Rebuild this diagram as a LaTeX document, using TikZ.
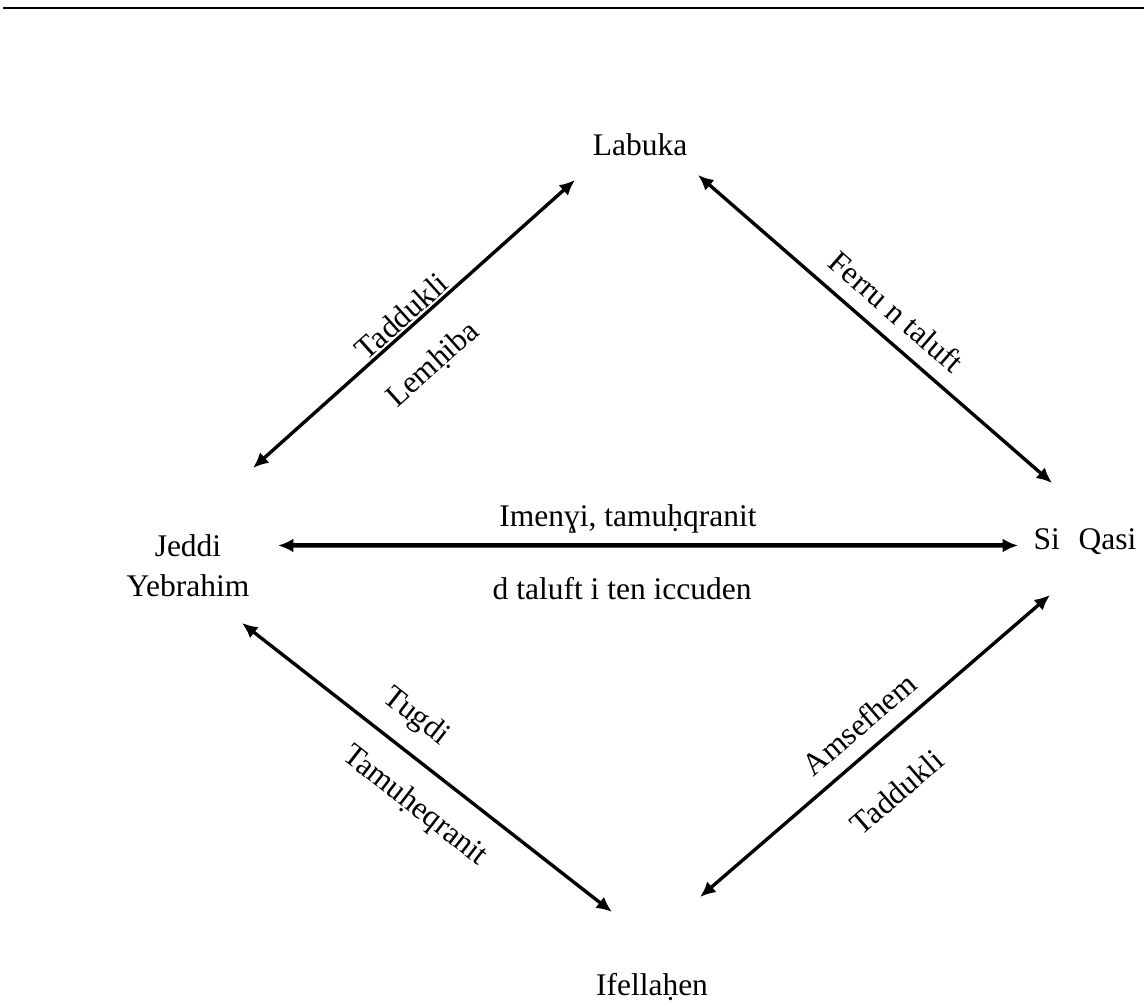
\documentclass[tikz,border=0pt]{standalone}
\usepackage{fontspec}
\setmainfont{Liberation Serif}
\usetikzlibrary{arrows.meta}
\begin{document}
\begin{tikzpicture}[>={Latex[length=5.5pt,width=5pt]},
    place/.style={inner sep=0pt,font=\fontsize{11.2}{14.2}\selectfont},
    link/.style={<->,line width=1.2pt},
    word/.style={sloped,inner sep=0pt,font=\fontsize{11.2}{13.5}\selectfont}]
    \useasboundingbox (0,0) rectangle (14.3,12.5625);
    \draw[line width=0.7pt] (0.04,12.4625) -- (14.3,12.4625);

    % the four places
    \node[place,anchor=base] (labuka) at (8,10.6125) {Labuka};
    \node[place,align=center] (jeddi) at (2.35,5.4875) {Jeddi\\Yebrahim};
    \node[place,anchor=base] (siqasi) at (13.5625,5.6875) {Si\hspace{0.6em}Qasi};
    \node[place,anchor=base] (ifellahen) at (8.15,0.125) {Ifellaḥen};

    % links between them
    \draw[link] ([shift={(0.8125,1.225)}]jeddi.center) -- node[word,above=0.5pt,pos=0.49] {Taddukli} node[word,below=10pt,pos=0.47] {Lemḥiba} ([shift={(-0.8125,-0.3)}]labuka.base);
    \draw[link] ([shift={(0.725,-0.2375)}]labuka.base) -- node[word,above=5pt,pos=0.51] {Ferru n taluft} ([shift={(-0.4125,0.8375)}]siqasi.base);
    \draw[link,line width=1.6pt] ([shift={(1.125,0.25625)}]jeddi.center) -- node[word,above=3.5pt,pos=0.473] {Imenɣi, tamuḥqranit} node[word,below=10.5pt,pos=0.465] {d taluft i ten iccuden} ([shift={(-0.8375,0.05625)}]siqasi.base);
    \draw[link] ([shift={(0.675,-0.7125)}]jeddi.center) -- node[word,above=6pt,pos=0.415] {Tugdi} node[word,below=8pt,pos=0.53] {Tamuḥeqranit} ([shift={(-0.5,1.0375)}]ifellahen.base);
    \draw[link] ([shift={(0.6,1.225)}]ifellahen.base) -- node[word,above=5pt,pos=0.505] {Amsefhem} node[word,below=13pt,pos=0.47] {Taddukli} ([shift={(-0.4375,-0.5625)}]siqasi.base);
\end{tikzpicture}
\end{document}
